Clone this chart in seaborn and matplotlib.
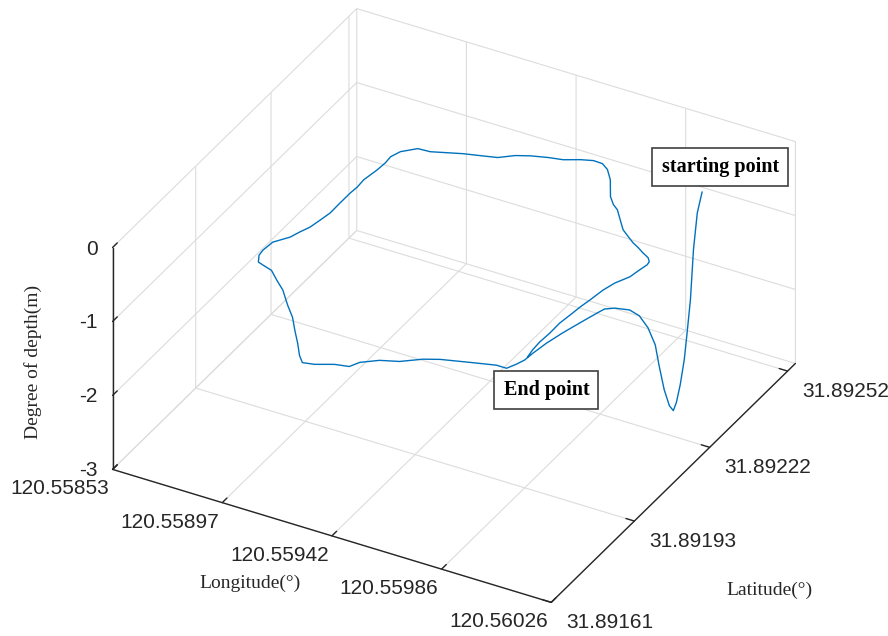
import numpy as np
import matplotlib
matplotlib.use("Agg")
import matplotlib.pyplot as plt
import seaborn as sns
from matplotlib.ticker import NullFormatter

# ---------------- data ----------------
lon = [
    120.560134, 120.560120, 120.560108, 120.560099, 120.560090, 120.560082,
    120.560070, 120.560058, 120.560049, 120.560054, 120.560059, 120.560065,
    120.560070, 120.560077, 120.560085, 120.560097, 120.560035, 120.560007,
    120.559997, 120.559964, 120.559943, 120.559926, 120.559916, 120.559912,
    120.559900, 120.559883, 120.559843, 120.559753, 120.559655, 120.559603,
    120.559540, 120.559476, 120.559423, 120.559404, 120.559353, 120.559293,
    120.559251, 120.559220, 120.559177, 120.559129, 120.559082, 120.559030,
    120.558969, 120.558921, 120.558874, 120.558833, 120.558809, 120.558790,
    120.558786, 120.558791, 120.558828, 120.558841, 120.558857, 120.558866,
    120.558874, 120.558873, 120.558873, 120.558876, 120.558873, 120.558883,
    120.558886, 120.558883, 120.558897, 120.558940, 120.558987, 120.559035,
    120.559092, 120.559151, 120.559208, 120.559255, 120.559302, 120.559360,
    120.559412, 120.559464, 120.559506, 120.559542, 120.559575, 120.559615,
    120.559668, 120.559701, 120.559729, 120.559769, 120.559808, 120.559845,
    120.559878, 120.559909, 120.559938, 120.559969, 120.559985, 120.559988,
    120.559981, 120.559973, 120.559947, 120.559933, 120.559924, 120.559916,
    120.559912, 120.559904, 120.559905, 120.559902, 120.559905, 120.559912,
]
lat = [
    31.892314, 31.892309, 31.892306, 31.892303, 31.892299, 31.892296,
    31.892292, 31.892289, 31.892286, 31.892266, 31.892241, 31.892215,
    31.892196, 31.892161, 31.892120, 31.892071, 31.892074, 31.892062,
    31.892043, 31.892009, 31.891963, 31.891918, 31.891875, 31.891847,
    31.891827, 31.891806, 31.891806, 31.891790, 31.891772, 31.891757,
    31.891729, 31.891714, 31.891690, 31.891668, 31.891661, 31.891643,
    31.891637, 31.891656, 31.891691, 31.891727, 31.891764, 31.891796,
    31.891837, 31.891861, 31.891886, 31.891894, 31.891899, 31.891920,
    31.891939, 31.891972, 31.892003, 31.892027, 31.892051, 31.892082,
    31.892112, 31.892151, 31.892190, 31.892214, 31.892242, 31.892284,
    31.892313, 31.892336, 31.892360, 31.892385, 31.892387, 31.892398,
    31.892411, 31.892421, 31.892431, 31.892453, 31.892466, 31.892477,
    31.892484, 31.892500, 31.892509, 31.892508, 31.892495, 31.892467,
    31.892416, 31.892395, 31.892383, 31.892355, 31.892328, 31.892312,
    31.892298, 31.892288, 31.892277, 31.892267, 31.892256, 31.892245,
    31.892223, 31.892193, 31.892161, 31.892129, 31.892087, 31.892057,
    31.892032, 31.891990, 31.891951, 31.891915, 31.891884, 31.891858,
]
depth = [
    0.00, -0.28, -0.78, -1.46, -1.90, -2.26,
    -2.60, -2.84, -2.95, -2.81, -2.50, -2.07,
    -1.73, -1.37, -1.06, -0.80, -0.85, -0.85,
    -0.85, -0.90, -0.90, -0.90, -0.90, -0.90,
    -0.90, -0.90, -0.90, -0.90, -0.90, -0.90,
    -0.90, -0.90, -0.90, -0.90, -0.90, -0.90,
    -0.90, -0.90, -0.90, -0.90, -0.90, -0.90,
    -0.90, -0.90, -0.90, -0.90, -0.90, -0.90,
    -0.90, -0.90, -0.90, -0.90, -0.90, -0.90,
    -0.90, -0.90, -0.90, -0.90, -0.90, -0.90,
    -0.90, -0.90, -0.90, -0.90, -0.90, -0.90,
    -0.90, -0.90, -0.90, -0.90, -0.90, -0.90,
    -0.90, -0.90, -0.90, -0.90, -0.90, -0.90,
    -0.90, -0.90, -0.90, -0.90, -0.90, -0.90,
    -0.90, -0.90, -0.90, -0.90, -0.90, -0.90,
    -0.90, -0.90, -0.90, -0.90, -0.90, -0.90,
    -0.90, -0.90, -0.90, -0.90, -0.90, -0.90,
]

lon_limits = [120.55853, 120.56026]
lat_limits = [31.89161, 31.89255]
depth_limits = [-3, 0]
lon_tick_labels = ["120.55853", "120.55897", "120.55942", "120.55986", "120.56026"]
lat_ticks = [31.89161, 31.89193, 31.89222, 31.89252]
lat_tick_labels = ["31.89161", "31.89193", "31.89222", "31.89252"]
depth_ticks = [-3, -2, -1, 0]
depth_tick_labels = ["-3", "-2", "-1", "0"]
start_label = "starting point"
end_label = "End point"

# ---------------- style ----------------
sns.set_theme(style="white")
GRID = "#dcdcdc"
AXC = "#262626"
LINE = "#0072BD"
plt.rcParams.update({
    "grid.color": GRID, "grid.linewidth": 0.8,
    "xtick.color": AXC, "ytick.color": AXC,
    "font.family": ["Liberation Sans", "DejaVu Sans"],
})
SANS = ["Liberation Sans", "DejaVu Sans"]
SERIF = ["Liberation Serif", "DejaVu Serif"]

W, H = 888, 636
fig = plt.figure(figsize=(W / 100, H / 100), dpi=100)
ax = fig.add_axes([0.0859, -0.0742, 0.8283, 1.1565], projection="3d", proj_type="ortho")
ax.view_init(elev=33.0, azim=-60.9)
ax.set_box_aspect((1, 1, 0.527), zoom=1.0)

ax.plot(lon, lat, depth, color=LINE, lw=1.0)

ax.set_xlim(*lon_limits)
ax.set_ylim(*lat_limits)
ax.set_zlim(*depth_limits)
lon_ticks = np.linspace(lon_limits[0], lon_limits[1], len(lon_tick_labels))
ax.set_xticks(lon_ticks)
ax.set_yticks(lat_ticks)
ax.set_zticks(depth_ticks)
ax.zaxis.set_ticks_position("lower")
for a in (ax.xaxis, ax.yaxis, ax.zaxis):
    a.set_major_formatter(NullFormatter())
    a.set_pane_color((1, 1, 1, 0))
    a.pane.set_edgecolor(GRID)
    a.pane.set_linewidth(0.8)
    a.line.set_color(AXC)
    a.line.set_linewidth(1.0)
    a._axinfo["tick"]["inward_factor"] = 0.0
    a._axinfo["tick"]["outward_factor"] = 0.24
    a._axinfo["tick"]["linewidth"] = {True: 1.0, False: 0.5}
    a._axinfo["grid"].update(color=GRID, linewidth=0.8)
ax.grid(True)

M = ax.get_proj()


def proj(x, y, z):
    v = M @ np.array([x, y, z, 1.0])
    return v[0] / v[3], v[1] / v[3]


tick_kw = dict(xycoords="data", textcoords="offset pixels", fontsize=15,
               color=AXC, family=SANS, annotation_clip=False)
for t, s in zip(lon_ticks, lon_tick_labels):
    ax.annotate(s, proj(t, lat_limits[0], depth_limits[0]), xytext=(-3, -25),
                ha="right", va="baseline", **tick_kw)
for t, s in zip(lat_ticks, lat_tick_labels):
    ax.annotate(s, proj(lon_limits[1], t, depth_limits[0]), xytext=(15, -26),
                ha="left", va="baseline", **tick_kw)
for t, s in zip(depth_ticks, depth_tick_labels):
    ax.annotate(s, proj(lon_limits[0], lat_limits[0], t), xytext=(-15, -7),
                ha="right", va="baseline", **tick_kw)

box = dict(boxstyle="square,pad=0.45", fc="white", ec="#404040", lw=1.2)
ax.annotate(start_label, proj(lon[0], lat[0], depth[0]), xycoords="data",
            xytext=(18, 25), textcoords="offset pixels", ha="center", va="center",
            fontsize=14.5, fontweight="bold", family=SERIF, color="black",
            bbox=box, annotation_clip=False)
ax.annotate(end_label, proj(lon[-1], lat[-1], depth[-1]), xycoords="data",
            xytext=(19, -33), textcoords="offset pixels", ha="center", va="center",
            fontsize=14.5, fontweight="bold", family=SERIF, color="black",
            bbox=box, annotation_clip=False)

lab_kw = dict(fontsize=14, family=SERIF, color=AXC, ha="center", va="center")
fig.text(33 / W, 1 - 362 / H, "Degree of depth(m)", rotation=90, **lab_kw)
fig.text(250 / W, 1 - 583 / H, "Longitude(°)", **lab_kw)
fig.text(769 / W, 1 - 590 / H, "Latitude(°)", **lab_kw)

fig.savefig("out.png", dpi=100)
